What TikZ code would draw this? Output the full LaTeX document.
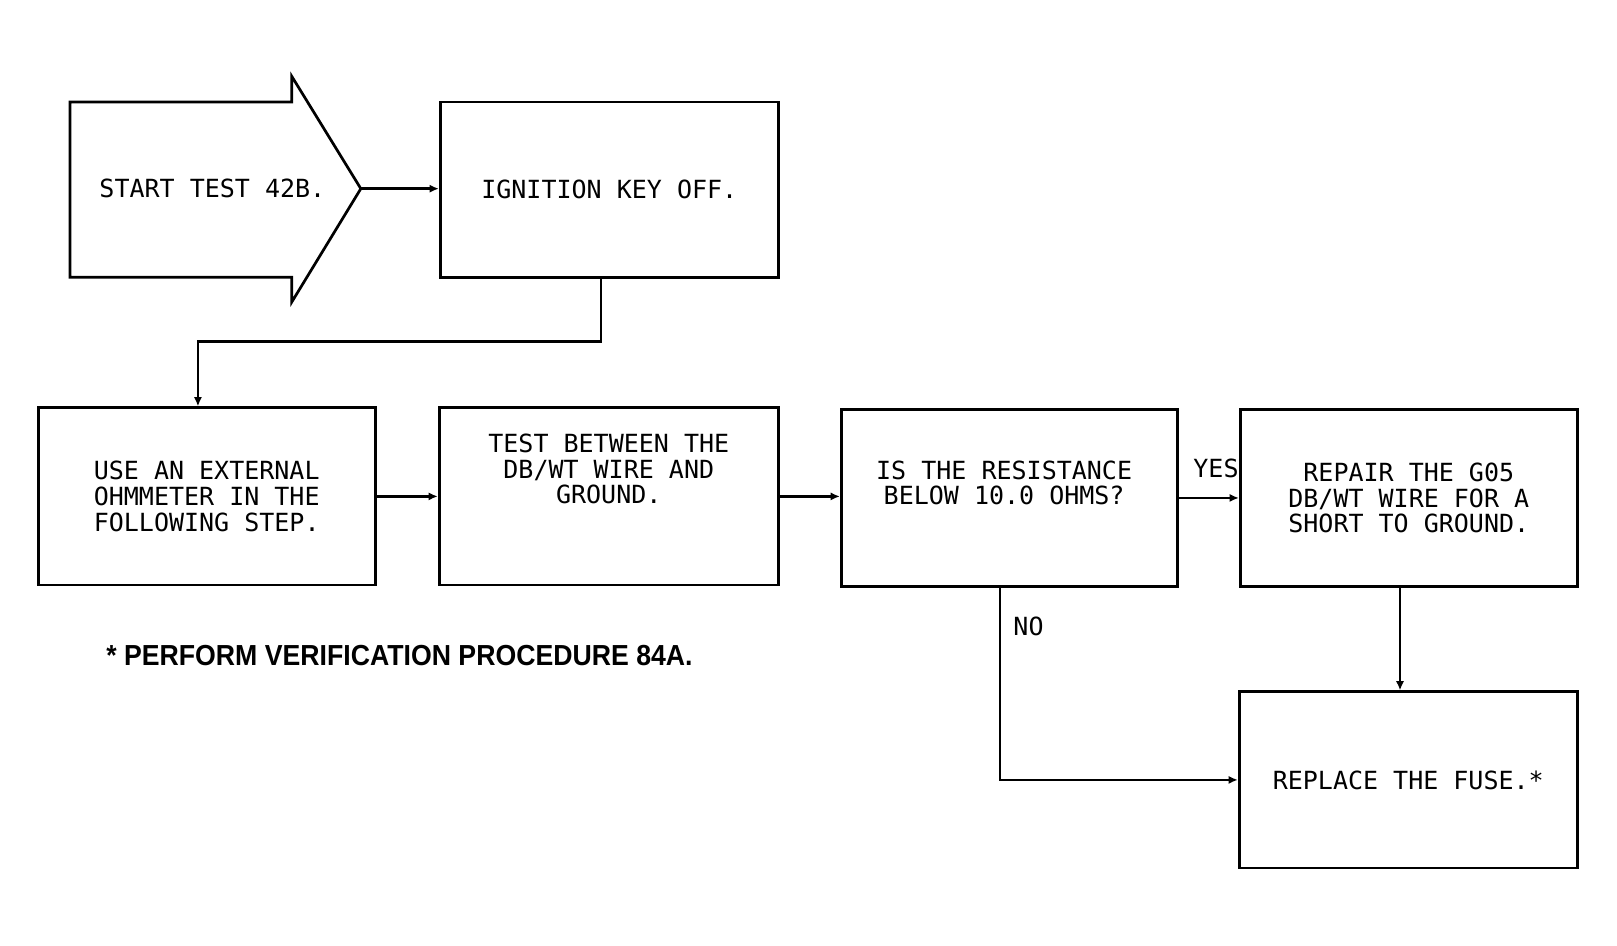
\documentclass[tikz,border=0pt]{standalone}
\usepackage{fontspec}
\setmonofont{DejaVu Sans Mono}
\newfontfamily\notefont[FakeStretch=0.92]{Liberation Sans}
\usetikzlibrary{arrows.meta}
\begin{document}
\begin{tikzpicture}[x=1cm, y=-1cm,
        box/.style={draw, line width=0.75pt, minimum width=3.27cm, minimum height=1.72cm, inner sep=0pt},
        plot/.style={font=\ttfamily\fontsize{6.9}{7.1}\selectfont, align=center},
        conn/.style={line width=0.75pt, -{Latex[length=0.09cm, width=0.08cm]}}]
            \useasboundingbox (0,0) rectangle (15.685,9.175);
            \path[draw, line width=0.75pt] (0.68,0.99) -- (2.83,0.99) -- (2.83,0.74) -- (3.50,1.83) -- (2.83,2.93) -- (2.83,2.69) -- (0.68,2.69) -- cycle;
            \coordinate (tip) at (3.50,1.83);
            \node[plot] (start) at (2.06,1.83) {START TEST 42B.};
            \node[box, plot, minimum width=3.28cm, minimum height=1.70cm] (ign) at (5.91,1.84) {IGNITION KEY OFF.};
            \node[box, plot, align=left] (use) at (2.005,4.815) {USE AN EXTERNAL\\OHMMETER IN THE\\FOLLOWING STEP.};
            \node[box, minimum width=3.29cm] (test) at (5.905,4.815) {};
            \node[plot] (testtext) at (5.905,4.55) {TEST BETWEEN THE\\DB/WT WIRE AND\\GROUND.};
            \node[box, minimum width=3.26cm] (is) at (9.79,4.83) {};
            \node[plot] (istext) at (9.74,4.685) {IS THE RESISTANCE\\BELOW 10.0 OHMS?};
            \node[box, plot] (repair) at (13.665,4.83) {REPAIR THE G05\\DB/WT WIRE FOR A\\SHORT TO GROUND.};
            \node[box, plot, minimum width=3.28cm, minimum height=1.71cm] (replace) at (13.66,7.565) {REPLACE THE FUSE.*};
            \node[font=\notefont\bfseries\fontsize{8}{9.6}\selectfont] (note) at (3.875,6.36) {* PERFORM VERIFICATION PROCEDURE 84A.};
            \coordinate (igndrop) at ([xshift=-0.08cm]ign.south);
            \coordinate (usetop) at ([xshift=-0.085cm]use.north);
            \coordinate (isdrop) at ([xshift=-0.09cm]is.south);
            \coordinate (repdrop) at ([xshift=-0.085cm]repair.south);
            \draw[conn] (tip) -- (tip -| ign.west);
            \draw[conn] (igndrop) -- ++(0,0.61) -| (usetop);
            \draw[conn] (use) -- (test);
            \draw[conn] (test.east) -- (test.east -| is.west);
            \draw[conn] (is.east) -- node[plot, above=0.06cm, pos=0.62] (yes) {YES} (repair.west);
            \draw[conn] (isdrop) |- node[plot, right, pos=0.1] (no) {NO} (replace.west);
            \draw[conn] (repdrop) -- (repdrop |- replace.north);
        \end{tikzpicture}
\end{document}
